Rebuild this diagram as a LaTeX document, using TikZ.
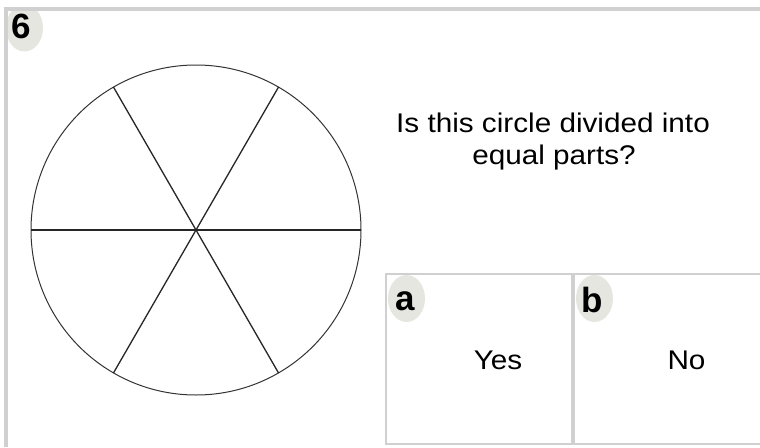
\documentclass[tikz,border=0pt]{standalone}
\usepackage{fontspec}
\setmainfont{Liberation Sans}
\newfontfamily\bodyfont[FakeStretch=1.1]{Liberation Sans}
\definecolor{framegray}{HTML}{D0D0D0}
\definecolor{badgegray}{HTML}{E6E6E1}
\tikzset{
  framebox/.style={draw=framegray, line width=2pt},
  badge/.style={fill=badgegray},
  badgelabel/.style={font=\fontsize{35}{35}\selectfont\bfseries, inner sep=0pt},
  bodytext/.style={font=\bodyfont\fontsize{27}{27}\selectfont, inner sep=0pt, anchor=base},
  spoke/.style={line width=1.3pt, draw=black!85}
}
\begin{document}
\begin{tikzpicture}[x=1pt,y=-1pt]
\useasboundingbox (0,0) rectangle (760,447);
\fill[white] (0,0) rectangle (760,447);
% outer frame
\draw[draw=framegray, line width=4pt] (6,447) -- (6,9) -- (762,9);
% badge 6
\begin{scope}
  \clip (8,11) rectangle (760,447);
  \fill[badge] (24.5,28) ellipse [x radius=18.5, y radius=23.5];
\end{scope}
\node[badgelabel] (n6) at (21.7,26.7) {6};
% circle
\draw[line width=1pt, draw=black!80] (196,230) circle [radius=165];
\draw[spoke] (31,230) -- (361,230);
\draw[spoke] (113.5,87.1) -- (278.5,372.9);
\draw[spoke] (278.5,87.1) -- (113.5,372.9);
% question
\node[bodytext] (q1) at (553,132) {Is this circle divided into};
\node[bodytext] (q2) at (554,164) {equal parts?};
% answer boxes
\draw[framebox] (386,274) rectangle (572,444);
\draw[framebox] (574,274) rectangle (764,444);
\begin{scope}
  \clip (387,275) rectangle (571,443);
  \fill[badge] (406.5,298.5) ellipse [x radius=18.5, y radius=23.5];
\end{scope}
\begin{scope}
  \clip (575,275) rectangle (760,443);
  \fill[badge] (594.5,298.5) ellipse [x radius=18.5, y radius=23.5];
\end{scope}
\node[badgelabel] (la) at (405.5,301) {a};
\node[badgelabel] (lb) at (592.5,299.5) {b};
\node[bodytext] (ya) at (498,369.5) {Yes};
\node[bodytext] (nb) at (686.5,369.5) {No};
\end{tikzpicture}
\end{document}
